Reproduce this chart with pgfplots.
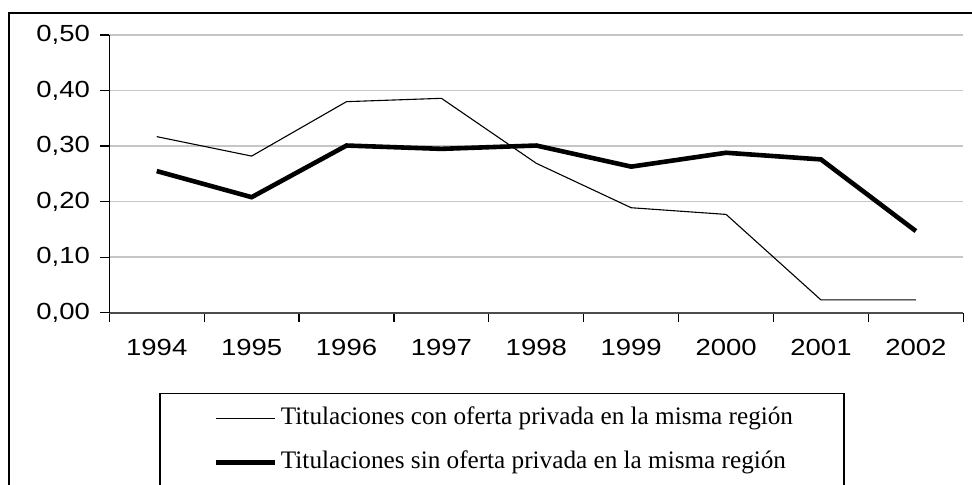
\documentclass[border=0pt]{standalone}
\usepackage{pgfplots}
\pgfplotsset{compat=1.18}
\usepackage{fontspec}
\setmainfont{Liberation Serif}
\newfontfamily\tickfont[FakeStretch=1.18]{Liberation Sans}
\newfontfamily\legfont{Liberation Serif}
\begin{document}
\begin{tikzpicture}[x=0.5pt,y=0.5pt]
\clip (0,0) rectangle (972,484);
\fill[white] (0,0) rectangle (972,484);
\draw[black, line width=0.6pt] (9,-20) -- (9,471) -- (1000,471);
\draw[black, line width=0.6pt] (160,-20) -- (160,90.7) -- (844,90.7) -- (844,-20);
\begin{axis}[
  at={(54.65pt,85.65pt)}, anchor=south west,
  scale only axis, width=427pt, height=138.85pt,
  xmin=0, xmax=9, ymin=0, ymax=0.5,
  axis x line*=bottom, axis y line*=left,
  x axis line style={-, draw=gray!60!black, line width=0.8pt},
  y axis line style={-, draw=black, line width=0.6pt},
  tick align=outside, major tick length=4.5pt,
  tick style={black, line width=0.6pt},
  xtick={0,1,...,9},
  x tick label as interval,
  xticklabels={1994,1995,1996,1997,1998,1999,2000,2001,2002},
  ytick={0,0.1,0.2,0.3,0.4,0.5},
  ymajorgrids, grid style={gray!45, line width=0.8pt},
  /pgf/number format/assume math mode=true,
  yticklabel style={/pgf/number format/fixed, /pgf/number format/fixed zerofill,
    /pgf/number format/precision=2, /pgf/number format/use comma,
    anchor=east, inner sep=0pt, xshift=-5pt},
  ticklabel style={font=\tickfont\fontsize{11.65}{14}\selectfont},
  xticklabel style={anchor=north, inner sep=0pt, yshift=-8.5pt},
  legend style={at={(axis description cs:0.1214,-0.336)}, anchor=north west,
    draw=none, fill=none, inner sep=0pt, row sep=10pt, column sep=0pt,
    font=\legfont\fontsize{12.6}{15}\selectfont,
    nodes={inner sep=0pt, text height=9pt, text depth=3pt},
    /tikz/every odd column/.append style={column sep=2pt},
    /tikz/every even column/.append style={column sep=0pt}},
  legend cell align=left,
  legend image code/.code={\draw[#1] (0pt,0pt) -- (29.5pt,0pt);},
]
\addplot[black, line width=0.55pt] coordinates {(0.5,0.317)(1.5,0.282)(2.5,0.380)(3.5,0.386)(4.5,0.269)(5.5,0.189)(6.5,0.177)(7.5,0.023)(8.5,0.023)};
\addlegendentry{Titulaciones con oferta privada en la misma región}
\addplot[black, line width=2.3pt] coordinates {(0.5,0.255)(1.5,0.208)(2.5,0.301)(3.5,0.295)(4.5,0.301)(5.5,0.263)(6.5,0.288)(7.5,0.276)(8.5,0.147)};
\addlegendentry{Titulaciones sin oferta privada en la misma región}
\end{axis}
\end{tikzpicture}
\end{document}
